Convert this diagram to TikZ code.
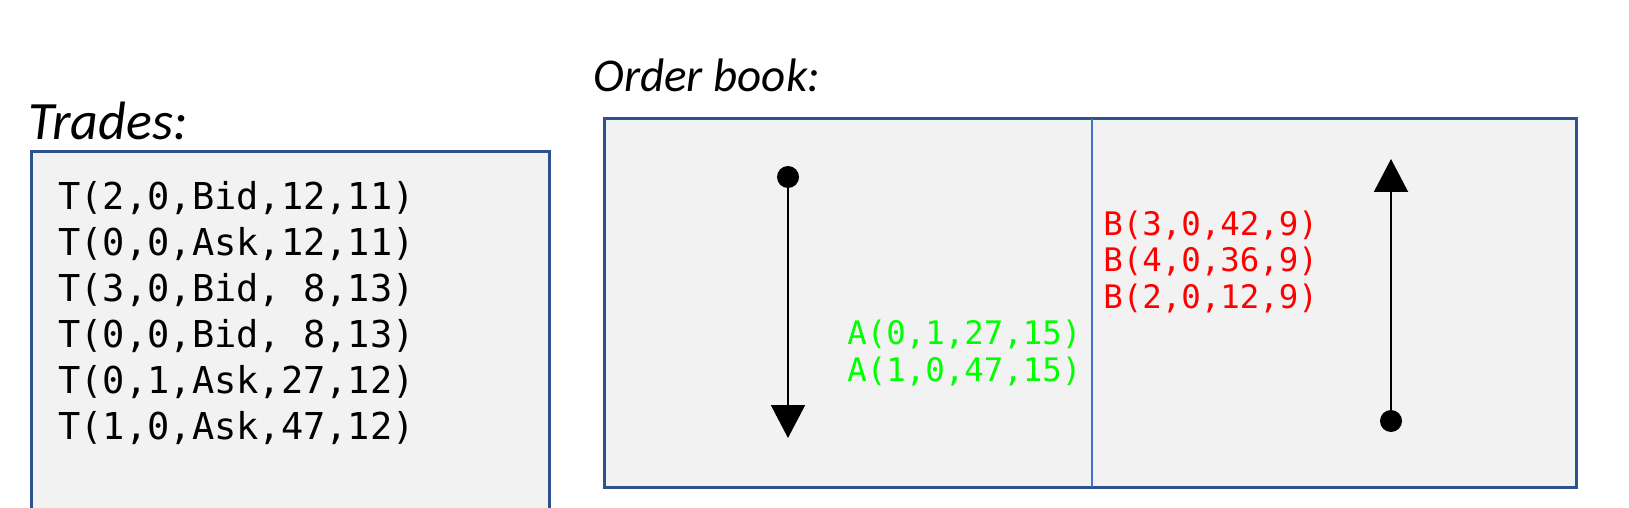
\documentclass[tikz,border=0pt]{standalone}
\usepackage{fontspec}
\setmainfont{Carlito}
\newfontfamily\codefont{DejaVu Sans Mono}
\usetikzlibrary{arrows.meta}
\definecolor{boxline}{HTML}{2F528F}
\definecolor{boxfill}{HTML}{F2F2F2}
\definecolor{splitline}{HTML}{4472C4}
\definecolor{askgreen}{HTML}{00FF00}
\definecolor{bidred}{HTML}{FF0000}

\begin{document}
\begin{tikzpicture}[x=0.5pt,y=-0.5pt,
  title/.style={anchor=base west,inner sep=0pt,font=\itshape},
  trade/.style={anchor=base west,inner sep=0pt,font=\fontsize{18.5}{22}\codefont},
  order/.style={anchor=base west,inner sep=0pt,font=\fontsize{16.2}{19}\codefont},
  dot/.style={circle,fill=black,inner sep=0pt,minimum size=11pt},
  book/.style={draw=boxline,fill=boxfill,line width=1.5pt},
  flow/.style={line width=1pt,-{Triangle[length=16.5pt,width=17pt]}}]
  \useasboundingbox (0,0) rectangle (1629,508);
  \clip (0,0) rectangle (1629,508);
  % trades
  \node[title,font=\fontsize{27}{32}\selectfont\itshape] (tradestitle) at (28,140) {Trades:};
  \draw[book] (31,152) rectangle (549,540);
  \node[trade] (t1) at (58,210) {T(2,0,Bid,12,11)};
  \node[trade] (t2) at (58,255.8) {T(0,0,Ask,12,11)};
  \node[trade] (t3) at (58,301.6) {T(3,0,Bid, 8,13)};
  \node[trade] (t4) at (58,347.4) {T(0,0,Bid, 8,13)};
  \node[trade] (t5) at (58,393.2) {T(0,1,Ask,27,12)};
  \node[trade] (t6) at (58,439) {T(1,0,Ask,47,12)};
  % order book
  \node[title,font=\fontsize{23.5}{28}\selectfont\itshape] (booktitle) at (593,92) {Order book:};
  \draw[book] (604,119) rectangle (1576,487);
  \draw[splitline,line width=1pt] (1092,119) -- (1092,487);
  % ask side
  \node[dot] (askstart) at (788,177) {};
  \coordinate (askend) at (788,438);
  \draw[flow] (askstart) -- (askend);
  \node[order,askgreen] (a1) at (847,344) {A(0,1,27,15)};
  \node[order,askgreen] (a2) at (847,381) {A(1,0,47,15)};
  % bid side
  \node[dot] (bidstart) at (1391,421) {};
  \coordinate (bidend) at (1391,159);
  \draw[flow] (bidstart) -- (bidend);
  \node[order,bidred] (b1) at (1103,235) {B(3,0,42,9)};
  \node[order,bidred] (b2) at (1103,271.5) {B(4,0,36,9)};
  \node[order,bidred] (b3) at (1103,308) {B(2,0,12,9)};
\end{tikzpicture}
\end{document}
